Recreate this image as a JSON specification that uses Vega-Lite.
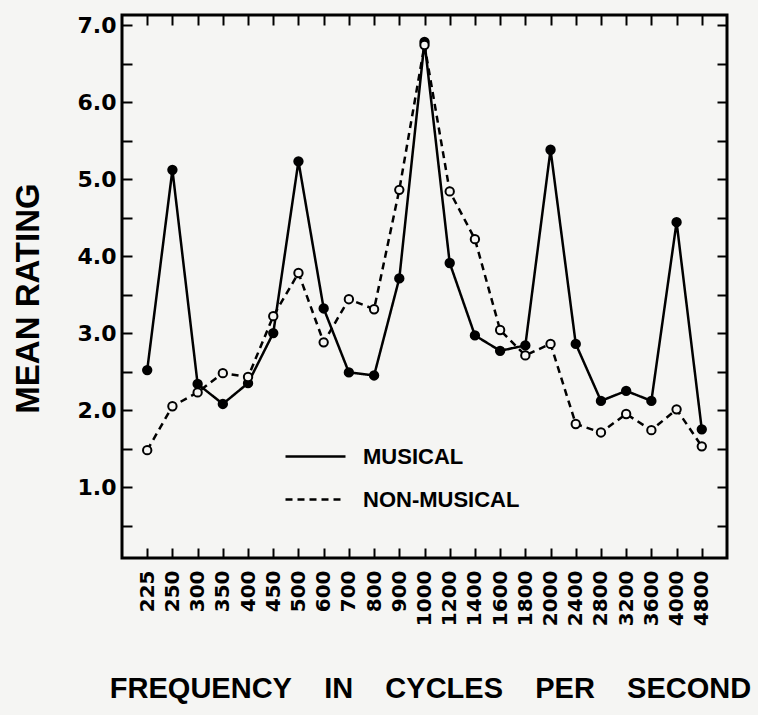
{
  "$schema": "https://vega.github.io/schema/vega-lite/v6.json",
  "width": 605,
  "height": 543,
  "autosize": "none",
  "padding": {"left": 122, "top": 15, "right": 31, "bottom": 157},
  "background": "#f5f5f3",
  "config": {
    "view": {"stroke": "black", "strokeWidth": 3},
    "axis": {"grid": false, "domain": false, "ticks": true, "tickColor": "black", "tickWidth": 2, "tickOpacity": 1, "labelColor": "black", "titleColor": "black"}
  },
  "data": {
    "values": [
      {"freq": "225", "series": "MUSICAL", "rating": 2.52},
      {"freq": "250", "series": "MUSICAL", "rating": 5.12},
      {"freq": "300", "series": "MUSICAL", "rating": 2.34},
      {"freq": "350", "series": "MUSICAL", "rating": 2.08},
      {"freq": "400", "series": "MUSICAL", "rating": 2.35},
      {"freq": "450", "series": "MUSICAL", "rating": 3.0},
      {"freq": "500", "series": "MUSICAL", "rating": 5.23},
      {"freq": "600", "series": "MUSICAL", "rating": 3.32},
      {"freq": "700", "series": "MUSICAL", "rating": 2.49},
      {"freq": "800", "series": "MUSICAL", "rating": 2.45},
      {"freq": "900", "series": "MUSICAL", "rating": 3.71},
      {"freq": "1000", "series": "MUSICAL", "rating": 6.78},
      {"freq": "1200", "series": "MUSICAL", "rating": 3.91},
      {"freq": "1400", "series": "MUSICAL", "rating": 2.97},
      {"freq": "1600", "series": "MUSICAL", "rating": 2.77},
      {"freq": "1800", "series": "MUSICAL", "rating": 2.84},
      {"freq": "2000", "series": "MUSICAL", "rating": 5.38},
      {"freq": "2400", "series": "MUSICAL", "rating": 2.86},
      {"freq": "2800", "series": "MUSICAL", "rating": 2.12},
      {"freq": "3200", "series": "MUSICAL", "rating": 2.25},
      {"freq": "3600", "series": "MUSICAL", "rating": 2.12},
      {"freq": "4000", "series": "MUSICAL", "rating": 4.44},
      {"freq": "4800", "series": "MUSICAL", "rating": 1.75},
      {"freq": "225", "series": "NON-MUSICAL", "rating": 1.48},
      {"freq": "250", "series": "NON-MUSICAL", "rating": 2.05},
      {"freq": "300", "series": "NON-MUSICAL", "rating": 2.23},
      {"freq": "350", "series": "NON-MUSICAL", "rating": 2.48},
      {"freq": "400", "series": "NON-MUSICAL", "rating": 2.43},
      {"freq": "450", "series": "NON-MUSICAL", "rating": 3.22},
      {"freq": "500", "series": "NON-MUSICAL", "rating": 3.78},
      {"freq": "600", "series": "NON-MUSICAL", "rating": 2.88},
      {"freq": "700", "series": "NON-MUSICAL", "rating": 3.44},
      {"freq": "800", "series": "NON-MUSICAL", "rating": 3.31},
      {"freq": "900", "series": "NON-MUSICAL", "rating": 4.86},
      {"freq": "1000", "series": "NON-MUSICAL", "rating": 6.74},
      {"freq": "1200", "series": "NON-MUSICAL", "rating": 4.84},
      {"freq": "1400", "series": "NON-MUSICAL", "rating": 4.22},
      {"freq": "1600", "series": "NON-MUSICAL", "rating": 3.04},
      {"freq": "1800", "series": "NON-MUSICAL", "rating": 2.71},
      {"freq": "2000", "series": "NON-MUSICAL", "rating": 2.86},
      {"freq": "2400", "series": "NON-MUSICAL", "rating": 1.82},
      {"freq": "2800", "series": "NON-MUSICAL", "rating": 1.71},
      {"freq": "3200", "series": "NON-MUSICAL", "rating": 1.95},
      {"freq": "3600", "series": "NON-MUSICAL", "rating": 1.74},
      {"freq": "4000", "series": "NON-MUSICAL", "rating": 2.01},
      {"freq": "4800", "series": "NON-MUSICAL", "rating": 1.53}
    ]
  },
  "resolve": {"axis": {"x": "independent", "y": "independent"}},
  "layer": [
    {
      "mark": {"type": "line", "color": "black", "strokeWidth": 2.5},
      "encoding": {
        "x": {
          "field": "freq", "type": "ordinal", "sort": null,
          "scale": {"type": "point", "padding": 1.03},
          "axis": {"orient": "top", "title": null, "labels": false, "tickSize": -10}
        },
        "y": {
          "field": "rating", "type": "quantitative",
          "scale": {"domain": [0.08, 7.13], "nice": false, "zero": false},
          "axis": {
            "orient": "left",
            "title": "MEAN RATING",
            "titleFont": "Liberation Sans", "titleFontSize": 33, "titleFontWeight": "bold",
            "titleX": -84, "titleY": 283, "titleBaseline": "alphabetic", "titleAlign": "center", "titleAngle": 270,
            "values": [0.5, 1, 1.5, 2, 2.5, 3, 3.5, 4, 4.5, 5, 5.5, 6, 6.5, 7],
            "labelExpr": "datum.value % 1 === 0 ? format(datum.value, '.1f') : ''",
            "labelFont": "DejaVu Sans", "labelFontSize": 22, "labelFontWeight": "bold",
            "tickSize": -10, "labelPadding": 16
          }
        },
        "strokeDash": {
          "field": "series", "type": "nominal",
          "scale": {"domain": ["MUSICAL", "NON-MUSICAL"], "range": [[1, 0], [7, 5]]},
          "legend": {
            "title": null,
            "orient": "none",
            "legendX": 162,
            "legendY": 410,
            "padding": 0,
            "symbolSize": 3600,
            "symbolStrokeWidth": 2.5,
            "labelOffset": 16,
            "rowPadding": -17,
            "labelLimit": 0,
            "labelFont": "Liberation Sans",
            "labelFontSize": 22,
            "labelFontWeight": "bold",
            "labelColor": "black"
          }
        }
      }
    },
    {
      "mark": {"type": "point", "filled": false, "stroke": "black", "strokeWidth": 2, "size": 70, "opacity": 1, "shape": "circle"},
      "encoding": {
        "x": {
          "field": "freq", "type": "ordinal", "sort": null,
          "axis": {
            "orient": "bottom",
            "title": "FREQUENCY\u00a0\u00a0\u00a0 IN\u00a0\u00a0\u00a0 CYCLES\u00a0\u00a0\u00a0 PER\u00a0\u00a0\u00a0 SECOND",
            "titleFont": "Liberation Sans", "titleFontSize": 29, "titleFontWeight": "bold",
            "titleX": 308, "titleY": 139, "titleBaseline": "alphabetic", "titleAlign": "center",
            "labelFont": "DejaVu Sans", "labelFontSize": 20, "labelFontWeight": "bold", "labelAngle": -90,
            "labelAlign": "right", "labelBaseline": "middle",
            "tickSize": -10, "labelPadding": 22
          }
        },
        "y": {
          "field": "rating", "type": "quantitative",
          "axis": {"orient": "right", "title": null, "labels": false, "tickSize": -10,
                   "values": [0.5, 1, 1.5, 2, 2.5, 3, 3.5, 4, 4.5, 5, 5.5, 6, 6.5, 7]}
        },
        "fill": {
          "condition": {"test": "datum.series === 'MUSICAL'", "value": "black"},
          "value": "#f5f5f3"
        }
      }
    }
  ]
}
